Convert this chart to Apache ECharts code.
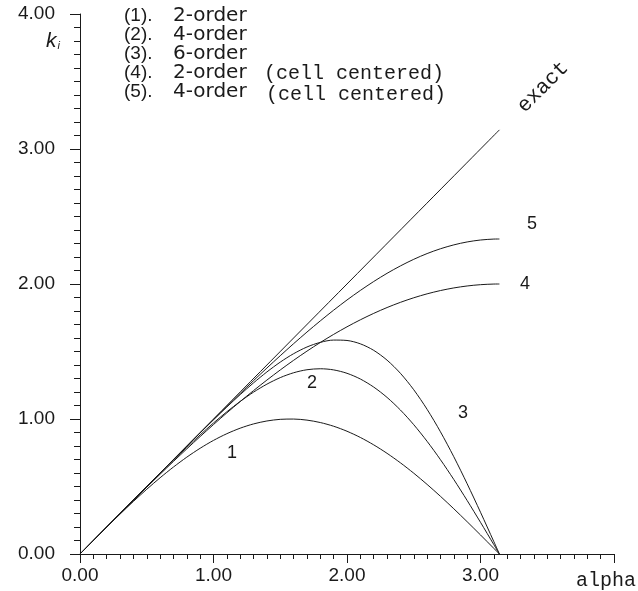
<!DOCTYPE html>
<html>
<head>
<meta charset="utf-8">
<script src="https://cdn.jsdelivr.net/npm/echarts@6/dist/echarts.min.js"></script>
<style>html,body{margin:0;padding:0;background:#fff;}#c{width:638px;height:591px;}</style>
</head>
<body>
<div id="c"></div>
<script>
// sampled alpha values
const alpha = [0, 0.1, 0.2, 0.3, 0.4, 0.5, 0.6, 0.7, 0.8, 0.9, 1.0, 1.1, 1.2, 1.3, 1.4, 1.5, 1.6,
  1.7, 1.8, 1.9, 2.0, 2.1, 2.2, 2.3, 2.4, 2.5, 2.6, 2.7, 2.8, 2.9, 3.0, 3.1, 3.1416];
// (1) 2-order
const k2 = [0, 0.0998, 0.1987, 0.2955, 0.3894, 0.4794, 0.5646, 0.6442, 0.7174, 0.7833, 0.8415, 0.8912,
  0.9320, 0.9636, 0.9854, 0.9975, 0.9996, 0.9917, 0.9738, 0.9463, 0.9093, 0.8632, 0.8085, 0.7457,
  0.6755, 0.5985, 0.5155, 0.4274, 0.3350, 0.2392, 0.1411, 0.0416, 0];
// (2) 4-order
const k4 = [0, 0.0999, 0.2000, 0.2999, 0.3996, 0.4990, 0.5975, 0.6947, 0.7899, 0.8821, 0.9705, 1.0535,
  1.1301, 1.1989, 1.2580, 1.3065, 1.3425, 1.3649, 1.3722, 1.3637, 1.3385, 1.2962, 1.2366, 1.1599,
  1.0667, 0.9578, 0.8346, 0.6987, 0.5519, 0.3964, 0.2347, 0.0693, 0];
// (3) 6-order
const k6 = [0, 0.0999, 0.1997, 0.3000, 0.3999, 0.4999, 0.5998, 0.6995, 0.7987, 0.8971, 0.9942, 1.0890,
  1.1806, 1.2678, 1.3485, 1.4213, 1.4837, 1.5333, 1.5677, 1.5847, 1.5817, 1.5568, 1.5086, 1.4359,
  1.3386, 1.2167, 1.0716, 0.9053, 0.7204, 0.5203, 0.3092, 0.0915, 0];
// (4) 2-order (cell centered)
const k2c = [0, 0.1000, 0.1997, 0.2988, 0.3973, 0.4948, 0.5910, 0.6858, 0.7788, 0.8700, 0.9589, 1.0454,
  1.1293, 1.2104, 1.2884, 1.3632, 1.4347, 1.5026, 1.5667, 1.6268, 1.6829, 1.7348, 1.7824, 1.8256,
  1.8641, 1.8980, 1.9271, 1.9514, 1.9709, 1.9854, 1.9950, 1.9996, 2.0000];
// (5) 4-order (cell centered)
const k4c = [0, 0.1000, 0.2000, 0.2999, 0.4000, 0.4999, 0.5996, 0.6992, 0.7985, 0.8975, 0.9956, 1.0930,
  1.1892, 1.2843, 1.3776, 1.4688, 1.5579, 1.6439, 1.7268, 1.8062, 1.8816, 1.9524, 2.0183, 2.0791,
  2.1339, 2.1829, 2.2254, 2.2610, 2.2898, 2.3115, 2.3259, 2.3328, 2.3333];
// exact
const exactX = [0, 3.1416];
const exactY = [0, 3.1416];

const xTicks = ['0.00', '1.00', '2.00', '3.00', ''];
const yTicks = ['0.00', '1.00', '2.00', '3.00', '4.00'];
const legendNums = ['(1).', '(2).', '(3).', '(4).', '(5).'];
const legendOrders = ['2-order', '4-order', '6-order', '2-order', '4-order'];
const legendExtra = ['', '', '', '(cell centered)', '(cell centered)'];
const curveTags = ['1', '2', '3', '4', '5'];

const pair = (xs, ys) => xs.map((x, i) => [x, ys[i]]);
const ink = '#1a1a1a';
const sans = 'Liberation Sans, Arial, sans-serif';
const mono = 'Liberation Mono, Courier New, monospace';

function line(data) {
  return {
    type: 'line', data: data, showSymbol: false, smooth: 0.3, silent: true,
    lineStyle: { color: ink, width: 1 }, animation: false
  };
}

const graphics = [];
const rowY = [16, 35, 54, 73, 92];
legendNums.forEach((t, i) => {
  graphics.push({ type: 'text', x: 124, y: rowY[i], style: { text: t, font: '19px ' + sans, fill: ink, textVerticalAlign: 'middle' } });
  graphics.push({ type: 'text', x: 173, y: rowY[i], style: { text: legendOrders[i], font: '20px DejaVu Sans, ' + sans, fill: ink, textVerticalAlign: 'middle' } });
  if (legendExtra[i]) {
    graphics.push({ type: 'text', x: i === 3 ? 264 : 266, y: rowY[i] + (i === 4 ? 3 : 1), style: { text: legendExtra[i], font: '20px ' + mono, fill: ink, textVerticalAlign: 'middle' } });
  }
});
const tagPos = [[232, 453], [312, 383], [463, 413], [525, 284], [532, 224]];
curveTags.forEach((t, i) => {
  graphics.push({ type: 'text', x: tagPos[i][0], y: tagPos[i][1], style: { text: t, font: '18px ' + sans, fill: ink, textAlign: 'center', textVerticalAlign: 'middle' } });
});
graphics.push({ type: 'text', x: 543, y: 87, rotation: Math.PI / 4, style: { text: 'exact', font: '21px ' + mono, fill: ink, textAlign: 'center', textVerticalAlign: 'middle' } });
graphics.push({ type: 'text', x: 606, y: 581, style: { text: 'alpha', font: '20px ' + mono, fill: ink, textAlign: 'center', textVerticalAlign: 'middle' } });
graphics.push({ type: 'text', x: 53, y: 41, style: {
  text: '{k|k}{i|i}', textAlign: 'center', textVerticalAlign: 'middle',
  rich: { k: { font: 'italic 21px ' + sans, fill: ink }, i: { font: 'italic 11px ' + sans, fill: ink, padding: [10, 0, 0, 1] } }
} });

const chart = echarts.init(document.getElementById('c'), null, { renderer: 'canvas' });
chart.setOption({
  animation: false,
  backgroundColor: '#fff',
  grid: { left: 80, top: 14, width: 534, height: 540 },
  xAxis: {
    type: 'value', min: 0, max: 4, interval: 1,
    axisLine: { show: true, lineStyle: { color: ink, width: 1 } },
    axisTick: { show: true, length: 9, lineStyle: { color: ink } },
    minorTick: { show: true, splitNumber: 10, length: 5, lineStyle: { color: ink } },
    splitLine: { show: false },
    axisLabel: { margin: 12, fontSize: 19, fontFamily: sans, color: ink,
      formatter: (v) => xTicks[Math.round(v)] },
  },
  yAxis: {
    type: 'value', min: 0, max: 4, interval: 1,
    axisLine: { show: true, lineStyle: { color: ink, width: 1 } },
    axisTick: { show: true, length: 10, lineStyle: { color: ink } },
    minorTick: { show: true, splitNumber: 10, length: 6, lineStyle: { color: ink } },
    splitLine: { show: false },
    axisLabel: { margin: 25, fontSize: 19, fontFamily: sans, color: ink,
      formatter: (v) => yTicks[Math.round(v)] },
  },
  series: [
    line(pair(exactX, exactY)),
    line(pair(alpha, k2)),
    line(pair(alpha, k4)),
    line(pair(alpha, k6)),
    line(pair(alpha, k2c)),
    line(pair(alpha, k4c))
  ],
  graphic: graphics
});
</script>
</body>
</html>
